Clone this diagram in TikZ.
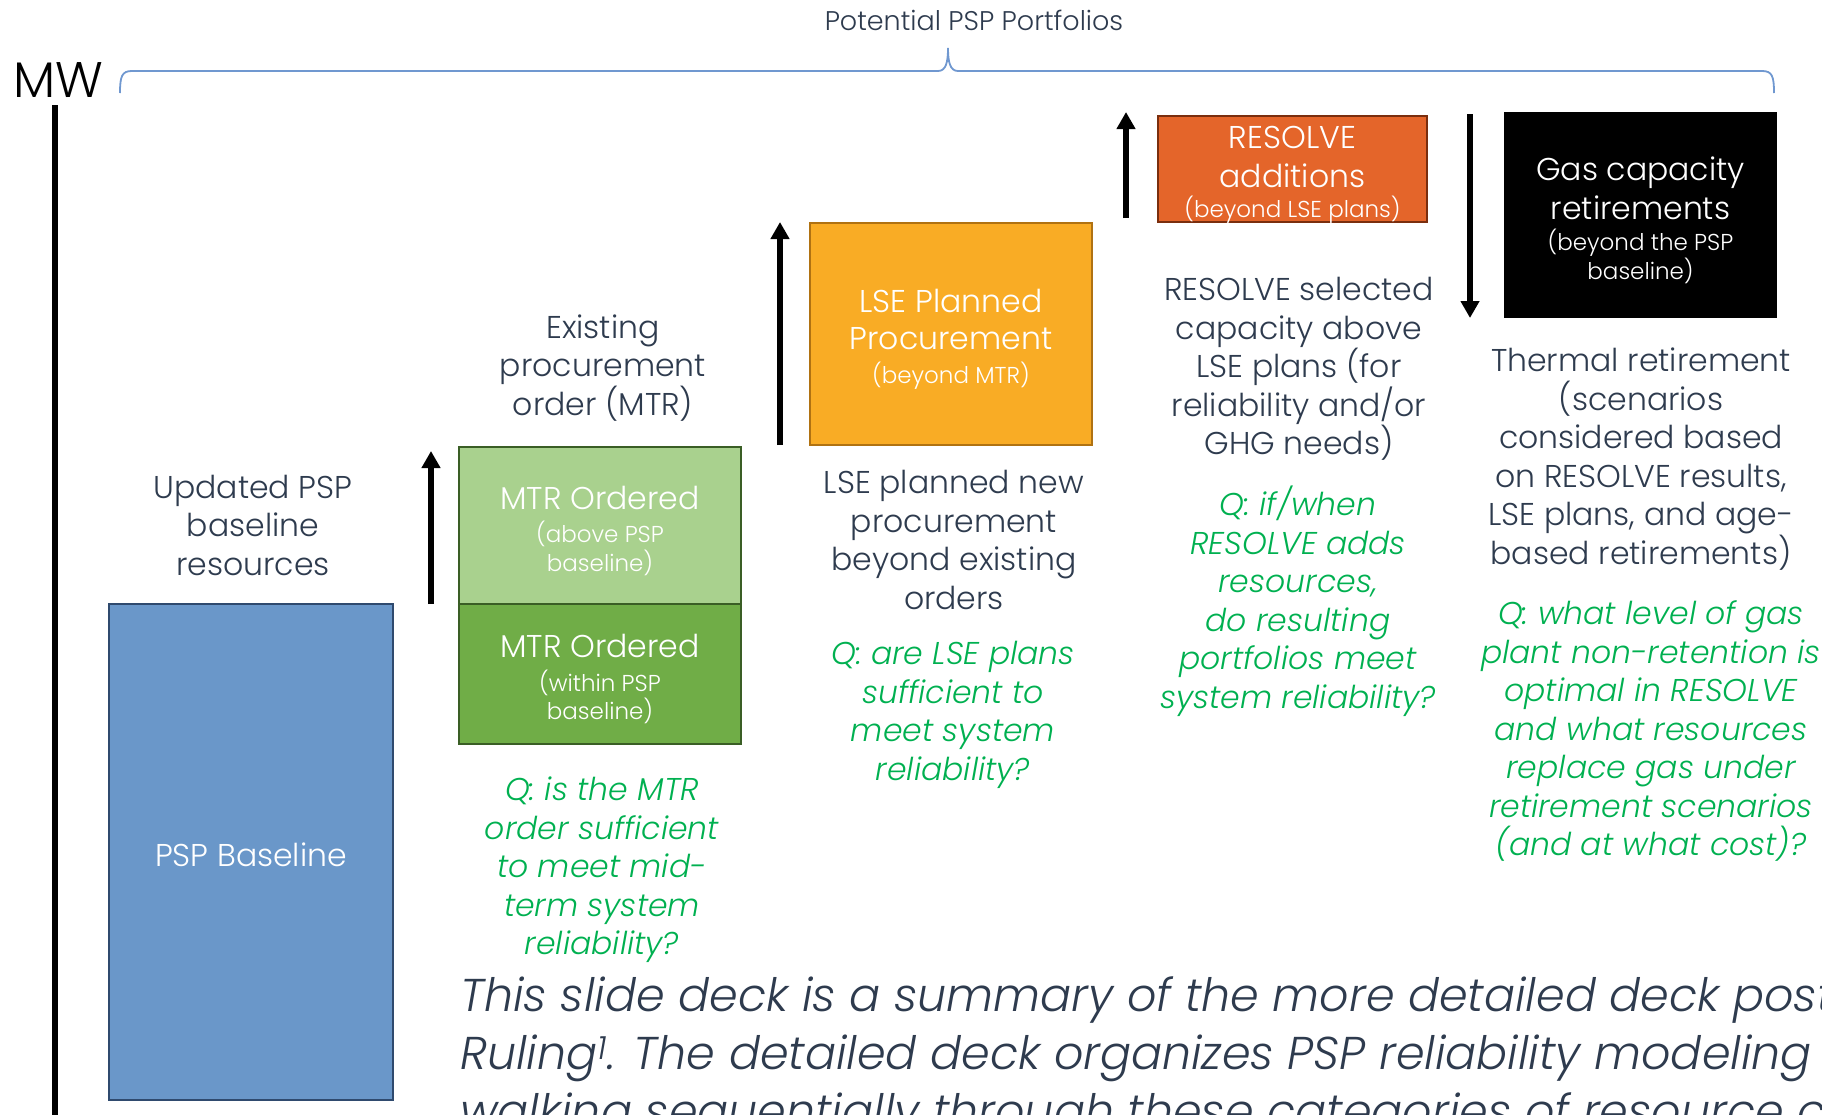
\documentclass[tikz,border=0pt]{standalone}
\usepackage{fontspec}
\setmainfont{Poppins Light}[ItalicFont={Poppins Light Italic}]
\usetikzlibrary{arrows.meta}
\definecolor{txt}{HTML}{2E3B4E}
\definecolor{qgreen}{HTML}{00B050}
\definecolor{pspfill}{HTML}{6A97C9}
\definecolor{pspdraw}{HTML}{2F4A6E}
\definecolor{ltgreen}{HTML}{A9D18E}
\definecolor{dkgreen}{HTML}{70AD47}
\definecolor{grdraw}{HTML}{3A5E25}
\definecolor{lsefill}{HTML}{F9AC25}
\definecolor{lsedraw}{HTML}{B07212}
\definecolor{resfill}{HTML}{E4652A}
\definecolor{resdraw}{HTML}{7A2E0E}
\definecolor{bracec}{HTML}{7098D0}
\newcommand{\bigf}{\fontsize{31.5}{38.5}\selectfont}
\newcommand{\smf}{\fontsize{23}{28.5}\selectfont}
\tikzset{
  lbl/.style={text=txt, align=center, font=\bigf, inner sep=0pt},
  qlbl/.style={text=qgreen, align=center, font=\bigf\itshape, inner sep=0pt},
  box/.style={draw, line width=2.5pt, inner sep=0pt},
  boxtxt/.style={text=white, align=center, font=\smf, inner sep=0pt, yshift=-5pt},
  arr/.style={line width=6pt, -{Triangle[length=17pt,width=18pt]}},
  btxt/.style={text=txt, font=\fontsize{46}{58}\selectfont\itshape, inner sep=0pt, anchor=base west}
}
\begin{document}
\begin{tikzpicture}[x=1pt,y=-1pt]
\useasboundingbox (0,0) rectangle (1822,1114);
\clip (0,0) rectangle (1822,1114);

% title and brace
\node[text=txt, font=\fontsize{27}{32}\selectfont, inner sep=0pt] (title) at (974,20) {Potential PSP Portfolios};
\draw[bracec, line width=1.8pt] (120,93) .. controls (120,76) and (122,71) .. (132,71) -- (938,71)
   .. controls (946,71) and (948,62) .. (948,48) .. controls (948,62) and (950,71) .. (958,71)
   -- (1762,71) .. controls (1772,71) and (1774,76) .. (1774,93);

% axis
\node[text=black, font=\fontsize{50}{56}\selectfont, inner sep=0pt] (mw) at (58,80) {MW};
\coordinate (axtop) at (55,105);
\coordinate (axbot) at (55,1120);
\draw[line width=6pt] (axtop) -- (axbot);

% PSP baseline
\node[box, draw=pspdraw, fill=pspfill, minimum width=284pt, minimum height=496pt] (psp) at (251,852) {};
\node[boxtxt, font=\bigf, yshift=2.7pt] (pspt) at (psp.center) {PSP Baseline};
\node[lbl] (upd) at (253,525) {Updated PSP\\baseline\\resources};

% MTR
\coordinate (a1s) at (431,604);
\coordinate (a1e) at (431,451);
\draw[arr] (a1s) -- (a1e);
\node[box, draw=grdraw, fill=ltgreen, minimum width=282pt, minimum height=157pt] (mtr1) at (600,525.5) {};
\node[boxtxt] (mtr1t) at (mtr1.center) {{\bigf MTR Ordered}\\[5pt](above PSP\\baseline)};
\node[box, draw=grdraw, fill=dkgreen, minimum width=282pt, minimum height=140pt] (mtr2) at (600,674) {};
\node[boxtxt] (mtr2t) at (mtr2.center) {{\bigf MTR Ordered}\\[5pt](within PSP\\baseline)};
\node[lbl] (exist) at (603,368) {Existing\\procurement\\order (MTR)};
\node[qlbl] (q1) at (602,870) {Q: is the MTR\\order sufficient\\to meet mid-\\term system\\reliability?};

% LSE
\coordinate (a2s) at (780,445);
\coordinate (a2e) at (780,222);
\draw[arr] (a2s) -- (a2e);
\node[box, draw=lsedraw, fill=lsefill, minimum width=282pt, minimum height=222pt] (lse) at (951,334) {};
\node[boxtxt] (lset) at (lse.center) {{\bigf LSE Planned}\\[9pt]{\bigf Procurement}\\[5pt](beyond MTR)};
\node[lbl] (lsel) at (954,540) {LSE planned new\\procurement\\beyond existing\\orders};
\node[qlbl] (q2) at (953,715) {Q: are LSE plans\\sufficient to\\meet system\\reliability?};

% RESOLVE
\coordinate (a3s) at (1126,218);
\coordinate (a3e) at (1126,112);
\draw[arr] (a3s) -- (a3e);
\node[box, draw=resdraw, fill=resfill, minimum width=269pt, minimum height=106pt] (res) at (1292.5,169) {};
\node[boxtxt, yshift=-1pt] (rest) at (res.center) {{\bigf RESOLVE}\\[10pt]{\bigf additions}\\[2pt](beyond LSE plans)};
\node[lbl] (resl) at (1299,369) {RESOLVE selected\\capacity above\\LSE plans (for\\reliability and/or\\GHG needs)};
\node[qlbl] (q3) at (1298,601) {Q: if/when\\RESOLVE adds\\resources,\\do resulting\\portfolios meet\\system reliability?};

% Gas retirements
\coordinate (a4s) at (1470,114);
\coordinate (a4e) at (1470,318);
\draw[arr] (a4s) -- (a4e);
\node[box, draw=black, fill=black, minimum width=271pt, minimum height=204pt] (gas) at (1640.5,215) {};
\node[boxtxt] (gast) at (gas.center) {{\bigf Gas capacity}\\[6pt]{\bigf retirements}\\[3pt](beyond the PSP\\baseline)};
\node[lbl] (therm) at (1641,459) {Thermal retirement\\(scenarios\\considered based\\on RESOLVE results,\\LSE plans, and age-\\based retirements)};
\node[qlbl] (q4) at (1651,731) {Q: what level of gas\\plant non-retention is\\optimal in RESOLVE\\and what resources\\replace gas under\\retirement scenarios\\(and at what cost)?};

% bottom text
\node[btxt] (b1) at (460,1011) {This slide deck is a summary of the more detailed deck posted with the};
\node[btxt] (b2) at (460,1069) {Ruling\textsuperscript{1}. The detailed deck organizes PSP reliability modeling results by};
\node[btxt] (b3) at (460,1127) {walking sequentially through these categories of resource changes};
\end{tikzpicture}
\end{document}
